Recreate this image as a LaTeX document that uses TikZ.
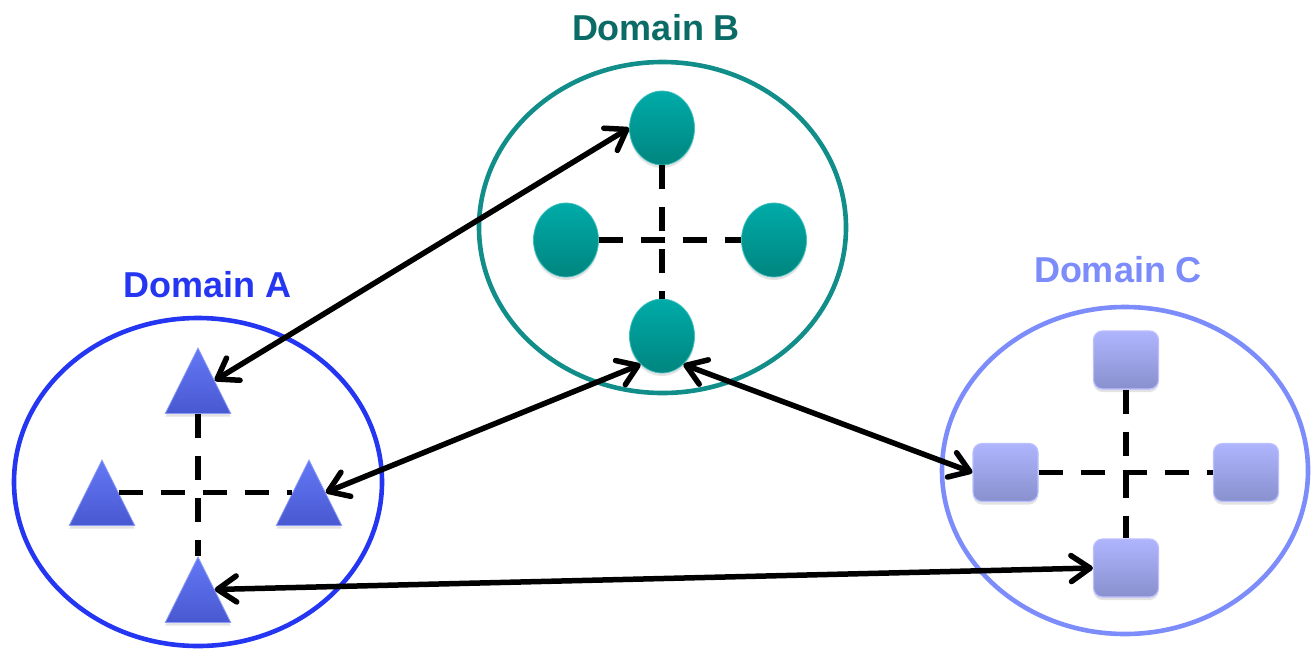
\documentclass[tikz,border=0pt]{standalone}
\usepackage{fontspec}
\setmainfont{Liberation Sans}
\usetikzlibrary{shapes.geometric,arrows.meta,shadows}

\definecolor{domA}{HTML}{2436F2}
\definecolor{domB}{HTML}{118E8A}
\definecolor{labB}{HTML}{0B6B66}
\definecolor{domC}{HTML}{7C8CFA}
\definecolor{triTop}{HTML}{6478F6}
\definecolor{triBot}{HTML}{4858D0}
\definecolor{cirTop}{HTML}{00ABA8}
\definecolor{cirBot}{HTML}{00857F}
\definecolor{sqTop}{HTML}{AFB5FD}
\definecolor{sqBot}{HTML}{8890CE}
\definecolor{sqEdge}{HTML}{B9BFFF}

\tikzset{
  domring/.style={ellipse, draw, line width=4.6pt, inner sep=0pt},
  domtitle/.style={anchor=base, font=\bfseries\fontsize{36}{40}\selectfont},
  softshadow/.style={drop shadow={shadow xshift=0pt, shadow yshift=-3pt, opacity=0.22}},
  trinode/.style={isosceles triangle, shape border rotate=90, isosceles triangle stretches,
    minimum width=65.5pt, minimum height=65.5pt, inner sep=0pt,
    top color=triTop, bottom color=triBot, draw=triTop!75!white, line width=0.8pt, softshadow},
  discnode/.style={ellipse, minimum width=65pt, minimum height=74pt, inner sep=0pt,
    top color=cirTop, bottom color=cirBot, draw=cirTop!75!white, line width=0.8pt, softshadow},
  boxnode/.style={rectangle, rounded corners=9pt, minimum width=65pt, minimum height=58pt, inner sep=0pt,
    top color=sqTop, bottom color=sqBot, draw=sqEdge, line width=1.2pt, softshadow},
  innerlink/.style={line width=5.5pt, dash pattern=on 24pt off 18pt},
  crosslink/.style={line width=5.5pt,
    {Straight Barb[length=19pt,width=26pt,round]}-{Straight Barb[length=19pt,width=26pt,round]}}
}

\begin{document}
\begin{tikzpicture}[x=1pt, y=-1pt]
\useasboundingbox (0,0) rectangle (1316,656);

% domain outlines and titles
\node[domring, draw=domA, minimum width=368pt, minimum height=328pt] (dA) at (198,482) {};
\node[domring, draw=domB, minimum width=367pt, minimum height=331pt] (dB) at (662.5,227.5) {};
\node[domring, draw=domC, minimum width=366pt, minimum height=327pt] (dC) at (1125,470.5) {};
\node[domtitle, text=domA] (lA) at (207.5,297) {Domain A};
\node[domtitle, text=labB] (lB) at (656,40) {Domain B};
\node[domtitle, text=domC] (lC) at (1118,282) {Domain C};

% domain A: triangles
\node[trinode, anchor=apex] (tT) at (198,347) {};
\node[trinode, anchor=apex] (tL) at (102,459) {};
\node[trinode, anchor=apex] (tR) at (309,459) {};
\node[trinode, anchor=apex] (tB) at (198,556) {};

% domain B: discs
\node[discnode] (cT) at (662,128) {};
\node[discnode] (cL) at (566,240) {};
\node[discnode] (cR) at (774,240) {};
\node[discnode] (cB) at (662,336) {};

% domain C: rounded squares
\node[boxnode] (sT) at (1126,360) {};
\node[boxnode] (sL) at (1005.5,472.5) {};
\node[boxnode] (sR) at (1246,472.5) {};
\node[boxnode] (sB) at (1126,568) {};

% internal links
\draw[innerlink] (tT.lower side) -- (tB.apex);
\draw[innerlink] (tL.right side) -- (tR.left side);
\draw[innerlink] (cT.south) -- (cB.north);
\draw[innerlink] (cL.east) -- (cR.west);
\draw[innerlink] (sT.south) -- (sB.north);
\draw[innerlink] (sL.east) -- (sR.west);

% inter-domain connections
\draw[crosslink] (tT.right side) -- (cT.west);
\draw[crosslink] (tR.right side) -- (cB.233);
\draw[crosslink] (cB.307) -- (sL.west);
\draw[crosslink] (tB.right side) -- (sB.west);
\end{tikzpicture}
\end{document}
